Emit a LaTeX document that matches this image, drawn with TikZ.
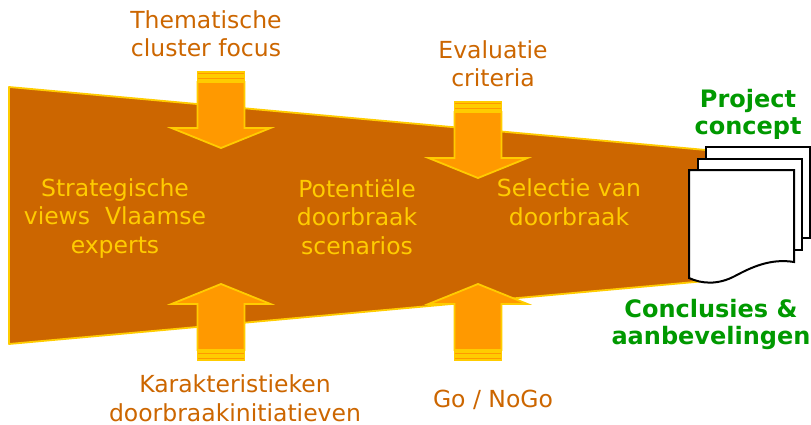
\documentclass[tikz,border=0pt]{standalone}
\usepackage{fontspec}
\setmainfont{DejaVu Sans}
\definecolor{funnelbrown}{HTML}{CC6600}
\definecolor{arrowfill}{HTML}{FF9900}
\definecolor{gold}{HTML}{FFCC00}
\definecolor{conceptgreen}{HTML}{009900}
\begin{document}
\begin{tikzpicture}
[x=1pt, y=-1pt,
 every node/.style={align=center, anchor=base, inner sep=0pt},
 inner/.style={text=gold, font=\fontsize{23.5}{28.5}\selectfont},
 outer/.style={text=funnelbrown, font=\fontsize{23.5}{28.5}\selectfont},
 result/.style={text=conceptgreen, font=\bfseries\fontsize{24}{27}\selectfont},
 flow/.style={fill=funnelbrown, draw=gold, line width=1.8pt, line join=round},
 push/.style={fill=arrowfill, draw=gold, line width=1.8pt},
 page/.style={fill=white, draw=black, line width=2pt}]
  \useasboundingbox (0,0) rectangle (811,425);
  % funnel
  \draw[flow] (9,87) -- (706,150) -- (706,281) -- (9,344) -- cycle;
  % inputs from above and below
  \foreach \ax/\ay/\dir in {221/72/1, 478/102/1, 221/360/-1, 478/360/-1} {
    \begin{scope}[shift={(\ax,\ay)}, yscale=\dir]
      \draw[push] (-23.5,0) rectangle (23.5,3);
      \draw[push] (-23.5,5) rectangle (23.5,8);
      \draw[push] (-23.5,10) -- (-23.5,56) -- (-49.5,56) -- (0,76)
                  -- (49.5,56) -- (23.5,56) -- (23.5,10) -- cycle;
    \end{scope}
  }
  % base = last line
  \node[outer] (focus) at (206,57) {Thematische\\cluster focus};
  \node[outer] (criteria) at (493,87) {Evaluatie\\criteria};
  \node[outer] (kenmerken) at (235,421) {Karakteristieken\\doorbraakinitiatieven};
  \node[outer] (gonogo) at (493,407) {Go / NoGo};
  \node[inner] (views) at (115,253) {Strategische\\views~~Vlaamse\\experts};
  \node[inner] (scenarios) at (357,254) {Potentiële\\doorbraak\\scenarios};
  \node[inner] (selectie) at (569,225) {Selectie van\\doorbraak};
  % document stack
  \draw[page] (706,147) rectangle (810,238);
  \draw[page] (698,159) rectangle (802,250);
  \draw[page] (689,170) -- (794,170) -- (794,262)
    .. controls (770,258) and (750,268) .. (735,276)
    .. controls (718,285) and (702,284) .. (689,278) -- cycle;
  \node[result] (concept) at (748,135) {Project\\concept};
  \node[result] (conclusies) at (711,344) {Conclusies \&\\aanbevelingen};
\end{tikzpicture}
\end{document}
